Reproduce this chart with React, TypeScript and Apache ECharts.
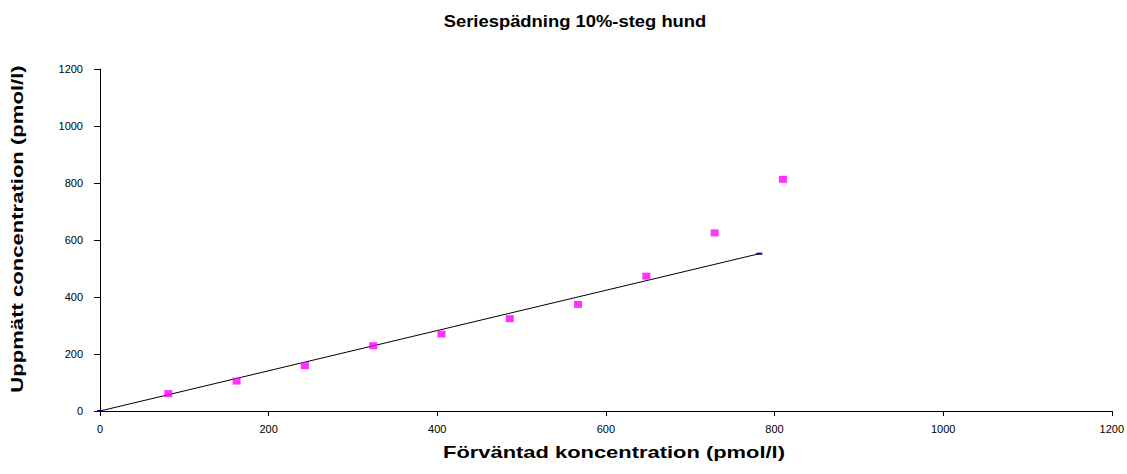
import React, { useEffect, useRef } from "react";
import * as echarts from "echarts";

const title = "Seriespädning 10%-steg hund";
const xName = "Förväntad koncentration (pmol/l)";
const yName = "Uppmätt concentration (pmol/l)";

const expected = [81, 162, 243, 324, 405, 486, 567, 648, 729, 810];
const measured = [61, 105, 159, 229, 270, 324, 374, 473, 625, 813];

const fitX = [0, 782];
const fitY = [0, 552];

export default function App() {
  const ref = useRef<HTMLDivElement>(null);
  useEffect(() => {
    if (!ref.current) return;
    const chart = echarts.init(ref.current, null, { renderer: "svg" });
    const font = "Liberation Sans, Arial, sans-serif";
    chart.setOption({
      animation: false,
      backgroundColor: "#fff",
      textStyle: { fontFamily: font },
      graphic: [
        {
          type: "text",
          x: 575,
          y: 21,
          scaleX: 1.15,
          style: {
            text: title,
            font: 'bold 16px "Liberation Sans", Arial, sans-serif',
            fill: "#000",
            align: "center",
            verticalAlign: "middle",
          },
        },
        {
          type: "text",
          x: 614,
          y: 453,
          scaleX: 1.37,
          style: {
            text: xName,
            font: 'bold 16px "Liberation Sans", Arial, sans-serif',
            fill: "#000",
            align: "center",
            verticalAlign: "middle",
          },
        },
        {
          type: "text",
          x: 18,
          y: 229,
          rotation: Math.PI / 2,
          scaleX: 1.38,
          style: {
            text: yName,
            font: 'bold 16px "Liberation Sans", Arial, sans-serif',
            fill: "#000",
            align: "center",
            verticalAlign: "middle",
          },
        },
      ],
      grid: { left: 100, right: 15, top: 69, bottom: 63, containLabel: false },
      xAxis: {
        type: "value",
        min: 0,
        max: 1200,
        interval: 200,
        axisLine: { show: true, lineStyle: { color: "#000", width: 1 } },
        axisTick: { show: true, length: 5, lineStyle: { color: "#000" } },
        axisLabel: { fontSize: 11, color: "#000", margin: 12, fontFamily: font, formatter: (v: number) => String(v) },
        splitLine: { show: false },
      },
      yAxis: {
        type: "value",
        min: 0,
        max: 1200,
        interval: 200,
        axisLine: { show: true, lineStyle: { color: "#000", width: 1 } },
        axisTick: { show: true, length: 6, lineStyle: { color: "#000" } },
        axisLabel: { fontSize: 11, color: "#000", margin: 17, fontFamily: font, formatter: (v: number) => String(v) },
        splitLine: { show: false },
      },
      series: [
        {
          type: "line",
          data: fitX.map((x, i) => [x, fitY[i]]),
          symbol: "rect",
          symbolSize: [6, 2],
          showAllSymbol: true,
          itemStyle: { color: "#000080" },
          lineStyle: { color: "#000", width: 1 },
          z: 2,
        },
        {
          type: "scatter",
          data: expected.map((x, i) => [x, measured[i]]),
          symbol: "rect",
          symbolSize: [8, 7],
          itemStyle: { color: "#FF00FF" },
          z: 3,
        },
      ],
    });
    return () => chart.dispose();
  }, []);
  return <div ref={ref} style={{ width: 1127, height: 474, position: "absolute", left: 0, top: 0 }} />;
}
